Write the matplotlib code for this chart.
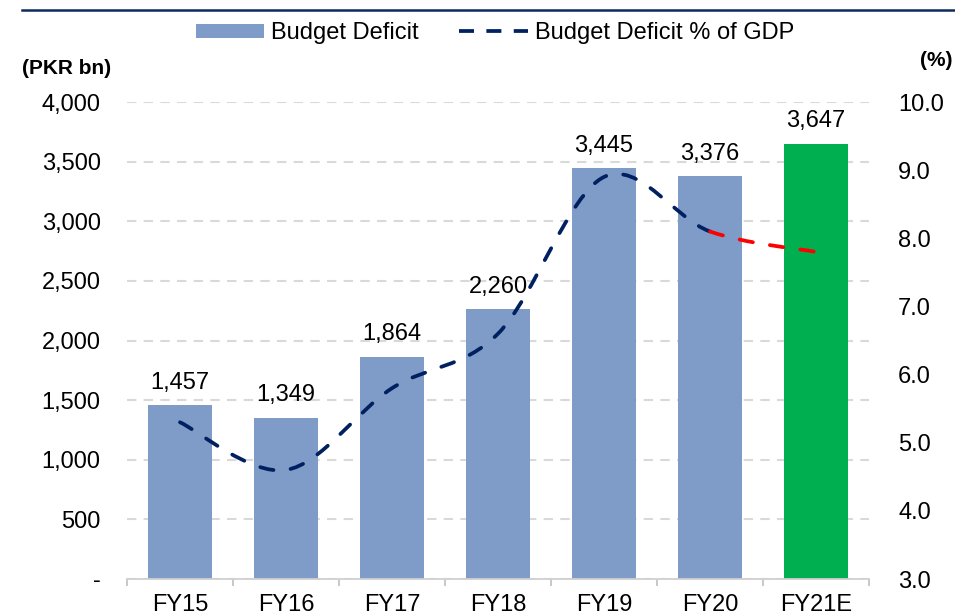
import matplotlib

matplotlib.use("Agg")
import matplotlib.pyplot as plt
from matplotlib.lines import Line2D
from matplotlib.patches import Patch, PathPatch
from matplotlib.path import Path
from matplotlib.ticker import FuncFormatter

plt.rcParams["font.family"] = ["Liberation Sans", "DejaVu Sans"]

# data
years = ["FY15", "FY16", "FY17", "FY18", "FY19", "FY20", "FY21E"]
deficit_bn = [1457, 1349, 1864, 2260, 3445, 3376, 3647]
deficit_pct_gdp = [5.3, 4.6, 5.8, 6.6, 8.9, 8.1, 7.8]
left_ticks = [0, 500, 1000, 1500, 2000, 2500, 3000, 3500, 4000]
right_ticks = [3.0, 4.0, 5.0, 6.0, 7.0, 8.0, 9.0, 10.0]

BAR_BLUE = "#7F9CC8"
GREEN = "#00B050"
NAVY = "#002060"
RED = "#FF0000"
GRID = "#D9D9D9"
FS = 17


def smooth_path(xs, ys, start, stop):
    """Excel-like smoothed line (Catmull-Rom as cubic Bezier) from index start to stop."""
    n = len(xs)
    pts = list(zip(xs, ys))
    verts = [pts[start]]
    codes = [Path.MOVETO]
    for i in range(start, stop):
        p0 = pts[max(i - 1, 0)]
        p1 = pts[i]
        p2 = pts[i + 1]
        p3 = pts[min(i + 2, n - 1)]
        c1 = (p1[0] + (p2[0] - p0[0]) / 6, p1[1] + (p2[1] - p0[1]) / 6)
        c2 = (p2[0] - (p3[0] - p1[0]) / 6, p2[1] - (p3[1] - p1[1]) / 6)
        verts += [c1, c2, p2]
        codes += [Path.CURVE4] * 3
    return Path(verts, codes)


fig = plt.figure(figsize=(9.55, 6.16), dpi=100)
ax = fig.add_axes([127 / 955, 1 - 579 / 616, 742 / 955, 477 / 616])
ax2 = ax.twinx()

x = list(range(len(years)))
colors = [BAR_BLUE] * (len(years) - 1) + [GREEN]
bars = ax.bar(x, deficit_bn, width=0.595, color=colors, zorder=2)
for xi, v in zip(x, deficit_bn):
    ax.annotate(f"{v:,}", (xi, v), xytext=(0, 12), textcoords="offset points",
                ha="center", va="baseline", fontsize=FS, color="black", zorder=5)

ax.set_xlim(-0.5, len(years) - 0.5)
ax.set_ylim(0, 4000)
ax.set_yticks(left_ticks)
ax.yaxis.set_major_formatter(FuncFormatter(lambda v, _: "-" if v == 0 else f"{v:,.0f}"))
ax.tick_params(axis="y", length=0, pad=19, labelsize=FS)
ax.yaxis.grid(True, color=GRID, lw=1.5, ls=(0, (4.5, 3.5)), zorder=0)
ax.set_axisbelow(True)

ax.set_xticks(x)
ax.set_xticklabels(years)
ax.set_xticks([i - 0.5 for i in range(len(years) + 1)], minor=True)
ax.tick_params(axis="x", which="major", length=0, pad=11, labelsize=FS)
ax.tick_params(axis="x", which="minor", length=5, width=1.2, color="#BFBFBF")

for s in ["top", "right", "left"]:
    ax.spines[s].set_visible(False)
    ax2.spines[s].set_visible(False)
ax2.spines["bottom"].set_visible(False)
ax.spines["bottom"].set_color("#D0D0D0")
ax.spines["bottom"].set_linewidth(1.3)

ax2.set_ylim(3, 10)
ax2.set_yticks(right_ticks)
ax2.yaxis.set_major_formatter(FuncFormatter(lambda v, _: f"{v:.1f}"))
ax2.tick_params(axis="y", length=0, pad=21, labelsize=FS)

dash = (0, (3.6, 4.6))
last = len(years) - 1
navy_curve = PathPatch(smooth_path(x, deficit_pct_gdp, 0, last - 1), fill=False,
                       edgecolor=NAVY, lw=2.7, linestyle=dash, capstyle="round", zorder=3)
red_curve = PathPatch(smooth_path(x, deficit_pct_gdp, last - 1, last), fill=False,
                      edgecolor=RED, lw=2.7, linestyle=dash, capstyle="round", zorder=3)
ax2.add_patch(navy_curve)
ax2.add_patch(red_curve)

# axis unit labels
fig.text(22 / 955, 1 - 68 / 616, "(PKR bn)", fontsize=15, fontweight="bold",
         ha="left", va="center")
fig.text(952 / 955, 1 - 60 / 616, "(%)", fontsize=15, fontweight="bold",
         ha="right", va="center")

# legend
handles = [Patch(facecolor=BAR_BLUE, edgecolor="none"),
           Line2D([0], [0], color=NAVY, lw=2.7, ls=(0, (4.0, 3.3)))]
fig.legend(handles, ["Budget Deficit", "Budget Deficit % of GDP"],
           loc="center", bbox_to_anchor=(495 / 955, 1 - 33 / 616), ncol=2,
           frameon=False, fontsize=FS, handlelength=2.9, handleheight=0.55,
           handletextpad=0.3, columnspacing=1.7)

# dark rule at the top of the exhibit
fig.add_artist(Line2D([22 / 955, 1], [1 - 9.5 / 616] * 2, color="#0E2A5E", lw=1.8))

fig.savefig("out.png", dpi=100)
